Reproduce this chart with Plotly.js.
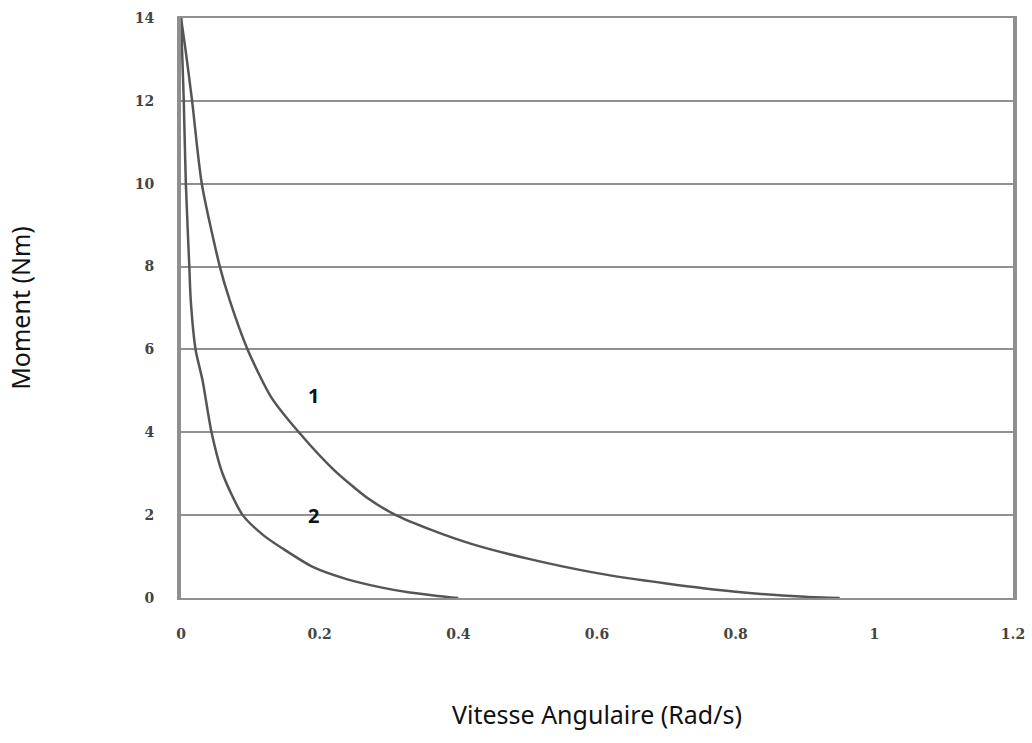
<!DOCTYPE html>
<html>
<head>
<meta charset="utf-8">
<script src="https://cdn.plot.ly/plotly-3.0.1.min.js"></script>
<style>html,body{margin:0;padding:0;background:#fff;}#chart{width:1032px;height:743px;}</style>
</head>
<body>
<div id="chart"></div>
<script>
// Curve 1
const x1 = [0, 0.006, 0.016, 0.03, 0.056, 0.07, 0.096, 0.13, 0.17, 0.22, 0.27, 0.31, 0.36, 0.42, 0.5, 0.6, 0.7, 0.8, 0.9, 0.95];
const y1 = [14, 13.3, 12, 10, 8, 7.2, 6, 4.85, 4, 3.1, 2.4, 2.0, 1.65, 1.3, 0.95, 0.6, 0.35, 0.15, 0.03, 0];
// Curve 2
const x2 = [0, 0.002, 0.004, 0.007, 0.012, 0.014, 0.021, 0.031, 0.044, 0.06, 0.089, 0.12, 0.146, 0.19, 0.24, 0.29, 0.33, 0.37, 0.4];
const y2 = [14, 13, 12, 10, 8, 7.2, 6, 5.26, 4, 3, 2, 1.5, 1.2, 0.75, 0.45, 0.25, 0.13, 0.05, 0];
const xTicks = [0, 0.2, 0.4, 0.6, 0.8, 1, 1.2];
const xTickText = ['0', '0.2', '0.4', '0.6', '0.8', '1', '1.2'];
const yTicks = [0, 2, 4, 6, 8, 10, 12, 14];
const curveLabels = ['1', '2'];
const labelX = [0.191, 0.191];
const labelY = [4.88, 1.98];

const lineStyle = {color: '#555555', width: 2.5, shape: 'spline', smoothing: 0.7};
const traces = [
  {x: x1, y: y1, mode: 'lines', line: lineStyle, hoverinfo: 'skip'},
  {x: x2, y: y2, mode: 'lines', line: lineStyle, hoverinfo: 'skip'}
];
const annotations = curveLabels.map((t, i) => ({
  x: labelX[i], y: labelY[i], xref: 'x', yref: 'y', text: '<b>' + t + '</b>',
  showarrow: false, font: {family: 'Noto Sans, sans-serif', size: 20, color: '#111'}
}));
const layout = {
  width: 1032, height: 743,
  margin: {l: 181, r: 19, t: 18, b: 145},
  paper_bgcolor: '#fff', plot_bgcolor: '#fff',
  showlegend: false,
  font: {family: 'Noto Sans, sans-serif'},
  xaxis: {
    range: [0, 1.2], tickvals: xTicks, ticktext: xTickText,
    showgrid: false, zeroline: false,
    showline: true, linecolor: '#8f8f8f', linewidth: 2, mirror: true,
    ticks: '', ticklabelstandoff: 22,
    tickfont: {family: 'DejaVu Serif, serif', size: 14, color: '#444', weight: 'bold'},
    title: {text: 'Vitesse Angulaire (Rad/s)', font: {family: 'Noto Sans, sans-serif', size: 25, color: '#111'}, standoff: 66}
  },
  yaxis: {
    range: [0, 14], tickvals: yTicks,
    showgrid: true, gridcolor: '#8f8f8f', gridwidth: 2,
    zeroline: false,
    showline: true, linecolor: '#8f8f8f', linewidth: 4, mirror: true,
    ticks: '', ticklabelstandoff: 20,
    tickfont: {family: 'DejaVu Serif, serif', size: 14, color: '#444', weight: 'bold'},
    title: {text: 'Moment (Nm)', font: {family: 'Noto Sans, sans-serif', size: 25, color: '#111'}, standoff: 98}
  },
  annotations: annotations
};
Plotly.newPlot('chart', traces, layout, {displayModeBar: false, staticPlot: true});
</script>
</body>
</html>
